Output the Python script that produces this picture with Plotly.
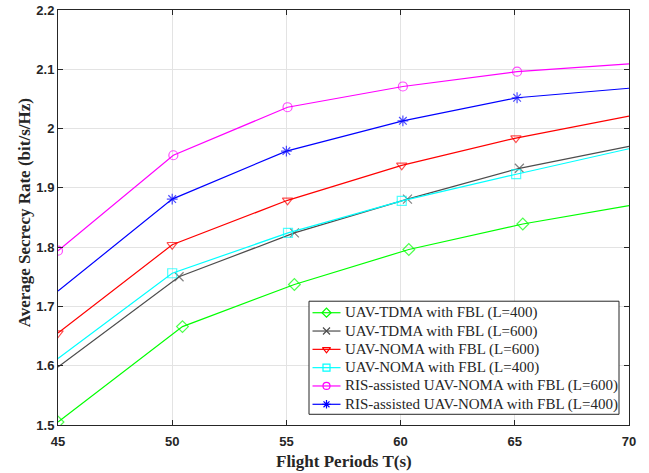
import plotly.graph_objects as go

# Flight periods (s) at which each scheme was evaluated
x_tdma_400 = [45, 50.45, 55.35, 60.36, 65.35, 70]
x_tdma_600 = [45, 50.3, 55.35, 60.3, 65.2, 70]
x_noma_600 = [45, 50, 55.05, 60.05, 65.05, 70]
x_noma_400 = [45, 50, 55.07, 60.05, 65.06, 70]
x_ris_600 = [45, 50.05, 55.05, 60.1, 65.1, 70]
x_ris_400 = [45, 50.0, 55.0, 60.1, 65.1, 70]

# Average secrecy rate (bit/s/Hz)
y_tdma_400 = [1.505, 1.666, 1.737, 1.796, 1.839, 1.870]
y_tdma_600 = [1.598, 1.750, 1.824, 1.881, 1.933, 1.970]
y_noma_600 = [1.655, 1.804, 1.879, 1.938, 1.984, 2.021]
y_noma_400 = [1.612, 1.756, 1.824, 1.878, 1.923, 1.966]
y_ris_600 = [1.794, 1.955, 2.036, 2.071, 2.096, 2.109]
y_ris_400 = [1.726, 1.881, 1.962, 2.013, 2.052, 2.068]

series_names = [
    "UAV-TDMA with FBL (L=400)",
    "UAV-TDMA with FBL (L=600)",
    "UAV-NOMA with FBL (L=600)",
    "UAV-NOMA with FBL (L=400)",
    "RIS-assisted UAV-NOMA with FBL (L=600)",
    "RIS-assisted UAV-NOMA with FBL (L=400)",
]
series_x = [x_tdma_400, x_tdma_600, x_noma_600, x_noma_400, x_ris_600, x_ris_400]
series_y = [y_tdma_400, y_tdma_600, y_noma_600, y_noma_400, y_ris_600, y_ris_400]
series_colors = ["#00ff00", "#4d4d4d", "#ff0000", "#00ffff", "#ff00ff", "#0000ff"]
series_symbols = ["diamond-open", "x-thin-open", "triangle-down-open",
                  "square-open", "circle-open", "asterisk-open"]
# whether the first sample carries a marker
marker_at_start = [True, False, True, False, True, False]

TEXT = "#262626"
fig = go.Figure()
for name, xs, ys, color, symbol, first in zip(series_names, series_x, series_y,
                                              series_colors, series_symbols,
                                              marker_at_start):
    sizes = [9] * len(xs)
    sizes[-1] = 0
    if not first:
        sizes[0] = 0
    fig.add_trace(go.Scatter(
        x=xs, y=ys, name=name, mode="lines+markers", showlegend=False,
        line=dict(color=color, width=1.2),
        marker=dict(symbol=symbol, size=sizes, color=color,
                    line=dict(color=color, width=1.2)),
    ))

# Legend box, drawn on an overlay axis measured in pixels from the
# top-left corner of the plotting area.
PLOT_W, PLOT_H = 571, 414.7
box_l, box_r, box_t, box_b = 251, 561, 291, 404
fig.add_trace(go.Scatter(
    x=[box_l, box_r, box_r, box_l, box_l], y=[box_t, box_t, box_b, box_b, box_t],
    mode="lines", fill="toself", fillcolor="white",
    line=dict(color=TEXT, width=1), xaxis="x2", yaxis="y2",
    showlegend=False, hoverinfo="skip",
))
row0, row_step = 302.5, 18.3
line_l, line_r, mark_x, text_x = 254.5, 282.5, 268.5, 285
for i, (name, color, symbol) in enumerate(zip(series_names, series_colors, series_symbols)):
    ry = row0 + i * row_step
    fig.add_trace(go.Scatter(
        x=[line_l, line_r], y=[ry, ry], mode="lines",
        line=dict(color=color, width=1.2), xaxis="x2", yaxis="y2",
        showlegend=False, hoverinfo="skip",
    ))
    fig.add_trace(go.Scatter(
        x=[mark_x], y=[ry], mode="markers",
        marker=dict(symbol=symbol, size=7, color=color, line=dict(color=color, width=1.2)),
        xaxis="x2", yaxis="y2", showlegend=False, hoverinfo="skip",
    ))
    fig.add_annotation(
        x=text_x, y=ry, xref="x2", yref="y2", text=name, showarrow=False,
        xanchor="left", yanchor="middle",
        font=dict(family="Liberation Serif", size=15, color=TEXT),
    )

title_font = dict(family="Liberation Serif", size=17, color=TEXT, weight="bold")
fig.add_annotation(
    x=(343.5 - 58) / PLOT_W, y=-(461.5 - 10 - PLOT_H) / PLOT_H,
    xref="paper", yref="paper", text="Flight Periods T(s)", showarrow=False,
    xanchor="center", yanchor="middle", font=title_font,
)
fig.add_annotation(
    x=(24 - 58) / PLOT_W, y=0.51, xref="paper", yref="paper",
    text="Average Secrecy Rate (bit/s/Hz)", showarrow=False, textangle=-90,
    xanchor="center", yanchor="middle", font=title_font,
)

axis_common = dict(
    showline=True, linecolor=TEXT, linewidth=1, mirror="ticks",
    ticks="inside", ticklen=5, tickcolor=TEXT, automargin=False,
    showgrid=True, gridcolor="#e3e3e3", gridwidth=1, zeroline=False,
    tickfont=dict(family="Liberation Sans", size=13, color=TEXT, weight="bold"),
)

fig.update_layout(
    width=649, height=473,
    margin=dict(l=58, r=20, t=10, b=48.3),
    plot_bgcolor="white", paper_bgcolor="white",
    showlegend=False,
    xaxis=dict(
        range=[45, 70], tickvals=[45, 50, 55, 60, 65, 70],
        ticklabelstandoff=4,
        **axis_common,
    ),
    yaxis=dict(
        range=[1.5, 2.2], tickvals=[1.5, 1.6, 1.7, 1.8, 1.9, 2.0, 2.1, 2.2],
        ticktext=["1.5", "1.6", "1.7", "1.8", "1.9", "2", "2.1", "2.2"],
        **axis_common,
    ),
    xaxis2=dict(overlaying="x", range=[0, PLOT_W], visible=False, fixedrange=True),
    yaxis2=dict(overlaying="y", range=[PLOT_H, 0], visible=False, fixedrange=True),
)

fig.write_html("out.html")
